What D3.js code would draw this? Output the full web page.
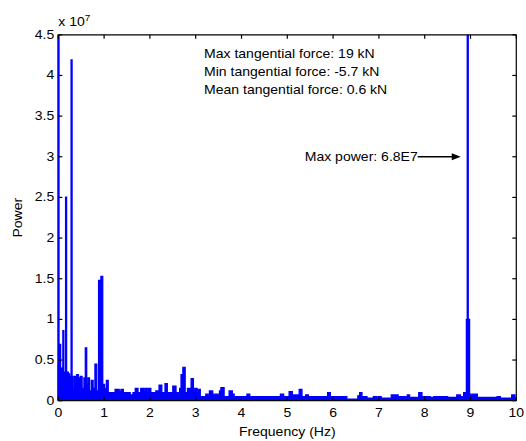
<!DOCTYPE html>
<html><head><meta charset="utf-8">
<script src="https://cdn.jsdelivr.net/npm/d3@7"></script>
<style>body{margin:0;background:#fff}svg{display:block}text{font-family:"Liberation Sans",Arial,sans-serif;fill:#000}</style>
</head><body><svg id="c" width="526" height="441"></svg>
<script>
// Power spectrum envelope (step after), power in units of 1e7
const envFreq = [0.00,0.02,0.05,0.07,0.09,0.12,0.14,0.19,0.22,0.25,0.32,0.35,0.38,0.40,0.44,0.48,0.52,0.56,0.59,0.62,0.65,0.68,0.72,0.76,0.80,0.84,0.88,0.93,0.97,1.01,1.05,1.09,1.24,1.33,1.37,1.42,1.57,1.63,1.68,1.74,1.80,1.86,1.89,1.94,1.97,2.02,2.13,2.18,2.20,2.26,2.33,2.38,2.50,2.57,2.62,2.65,2.68,2.72,2.77,2.82,2.90,2.95,2.98,3.03,3.06,3.10,3.22,3.27,3.30,3.37,3.52,3.55,3.62,3.73,3.80,3.84,4.12,4.18,4.85,4.92,5.04,5.11,5.26,5.32,5.40,5.46,5.88,5.94,6.30,6.54,6.58,6.63,6.74,6.88,6.95,6.98,7.05,7.27,7.42,7.62,7.67,7.87,7.94,8.12,8.20,8.50,8.70,8.78,8.85,8.91,8.98,9.15,9.58,9.65,9.90,9.97,10.0];
const envPower = [0.45,0.40,0.30,0.40,0.35,0.35,0.25,0.35,0.33,0.30,0.15,0.30,0.15,0.32,0.28,0.30,0.15,0.28,0.65,0.20,0.28,0.12,0.25,0.15,0.45,0.12,1.48,1.53,0.20,0.15,0.25,0.10,0.14,0.12,0.14,0.10,0.07,0.10,0.15,0.10,0.15,0.10,0.15,0.10,0.15,0.10,0.12,0.10,0.19,0.10,0.21,0.10,0.18,0.10,0.03,0.15,0.32,0.41,0.10,0.15,0.27,0.10,0.15,0.10,0.14,0.05,0.08,0.05,0.12,0.08,0.12,0.16,0.05,0.12,0.08,0.05,0.08,0.05,0.08,0.05,0.11,0.07,0.14,0.05,0.07,0.05,0.10,0.05,0.02,0.06,0.10,0.05,0.03,0.05,0.03,0.05,0.03,0.07,0.05,0.07,0.04,0.10,0.05,0.04,0.05,0.04,0.07,0.05,0.10,1.00,0.08,0.04,0.05,0.03,0.07,0.03,0.03];
// Narrow spectral spikes
const spikeFreq = [0.005,0.04,0.11,0.17,0.29,8.94];
const spikePower = [5.0,0.70,0.87,2.51,4.20,6.80];
const xTicks = [0,1,2,3,4,5,6,7,8,9,10];
const yTicks = [0,0.5,1,1.5,2,2.5,3,3.5,4,4.5];
const notes = ["Max tangential force: 19 kN","Min tangential force: -5.7 kN","Mean tangential force: 0.6 kN"];
const maxLabel = "Max power: 6.8E7";
const maxPowerFreq = 8.94, maxLabelPower = 3.0;

const svg = d3.select("#c");
const L=58.3, R=516.3, T=34.8, B=400.7;
const x = d3.scaleLinear().domain([0,10]).range([L,R]);
const y = d3.scaleLinear().domain([0,4.5]).range([B,T]);
const blue = "#0000ff";
const FS = 12, SX = 1.17;
function txt(px, py, s, anchor, rot) {
  const t = svg.append("text")
    .attr("transform", `translate(${px},${py})` + (rot ? ` rotate(${rot})` : "") + ` scale(${SX},1)`)
    .attr("text-anchor", anchor || "start").attr("font-size", FS);
  if (s !== null) t.text(s);
  return t;
}

svg.append("defs").append("clipPath").attr("id","clip").append("rect")
  .attr("x",L-1.5).attr("y",T).attr("width",R-L+2).attr("height",B-T);

svg.append("line").attr("x1",L).attr("x2",L).attr("y1",T).attr("y2",B).attr("stroke","#000").attr("stroke-width",1.2);

const g = svg.append("g").attr("clip-path","url(#clip)");
const area = d3.area().x((d,i)=>x(envFreq[i])).y0(y(0)).y1(d=>y(d)).curve(d3.curveStepAfter);
g.append("path").datum(envPower).attr("d",area).attr("fill",blue).attr("stroke",blue).attr("stroke-width",1.3);
g.selectAll("line.sp").data(spikeFreq).join("line").attr("class","sp")
  .attr("x1",d=>x(d)).attr("x2",d=>x(d)).attr("y1",y(0)).attr("y2",(d,i)=>y(spikePower[i]))
  .attr("stroke",blue).attr("stroke-width",2.3);

const ax = svg.append("g").attr("stroke","#000").attr("stroke-width",1.2);
ax.append("line").attr("x1",L).attr("x2",R).attr("y1",B).attr("y2",B);
ax.append("line").attr("x1",L).attr("x2",R).attr("y1",T).attr("y2",T);
ax.append("line").attr("x1",R).attr("x2",R).attr("y1",T).attr("y2",B);
const tl = 4;
xTicks.forEach(t=>{
  ax.append("line").attr("x1",x(t)).attr("x2",x(t)).attr("y1",B).attr("y2",B-tl);
  ax.append("line").attr("x1",x(t)).attr("x2",x(t)).attr("y1",T).attr("y2",T+tl);
});
yTicks.forEach(t=>{
  ax.append("line").attr("x1",L).attr("x2",L+tl).attr("y1",y(t)).attr("y2",y(t));
  ax.append("line").attr("x1",R).attr("x2",R-tl).attr("y1",y(t)).attr("y2",y(t));
});
xTicks.forEach(t=>txt(x(t), B+16.5, String(t), "middle"));
yTicks.forEach(t=>txt(L-4, y(t)+4, String(t), "end"));

const ex = txt(L, 26, null, "start");
ex.append("tspan").text("x 10");
ex.append("tspan").attr("dy",-5).attr("font-size",8.5).text("7");

txt((L+R)/2, 436, "Frequency (Hz)", "middle");
txt(22, (T+B)/2, "Power", "middle", -90);

notes.forEach((s,i)=>txt(204, 58+i*18, s, "start"));

const ay = y(maxLabelPower);
txt(x(maxPowerFreq)-50, ay+4, maxLabel, "end");
svg.append("line").attr("x1",x(maxPowerFreq)-50).attr("x2",x(maxPowerFreq)-14).attr("y1",ay).attr("y2",ay).attr("stroke","#000").attr("stroke-width",1.5);
svg.append("path").attr("d",`M${x(maxPowerFreq)-7},${ay} L${x(maxPowerFreq)-16},${ay-3.5} L${x(maxPowerFreq)-16},${ay+3.5} Z`).attr("fill","#000");
</script></body></html>
